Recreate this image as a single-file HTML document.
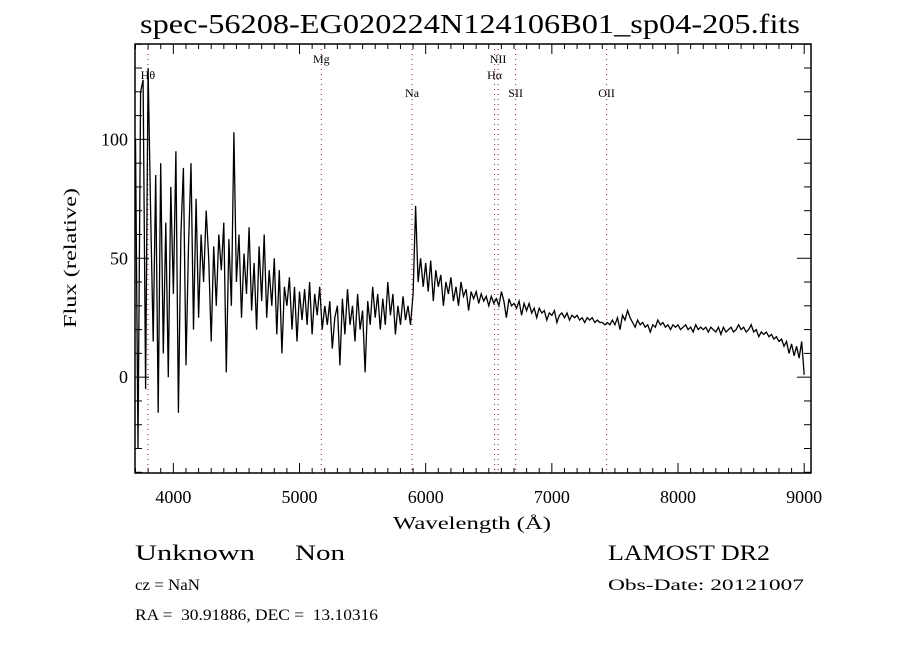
<!DOCTYPE html>
<html><head><meta charset="utf-8"><style>
body{margin:0;background:#fff}
svg{display:block}
text{font-family:"Liberation Serif",serif;fill:#000;white-space:pre}
</style></head><body>
<svg id="chart" width="900" height="650" viewBox="0 0 900 650" xmlns="http://www.w3.org/2000/svg" xml:space="preserve">
<rect width="900" height="650" fill="#fff"/>
<text x="470" y="33" font-size="27" text-anchor="middle" textLength="660" lengthAdjust="spacingAndGlyphs">spec-56208-EG020224N124106B01_sp04-205.fits</text>
<g id="ticks"></g>
<g id="lines"></g>
<defs><clipPath id="clip"><rect x="135" y="44" width="676" height="429"/></clipPath></defs>
<path id="spec" fill="none" stroke="#000" stroke-width="1.3" clip-path="url(#clip)"/>
<rect x="135" y="44" width="676" height="429" fill="none" stroke="#000" stroke-width="1.5"/>
<text x="472" y="529" font-size="18" text-anchor="middle" textLength="158" lengthAdjust="spacingAndGlyphs">Wavelength (Å)</text>
<text transform="translate(76,258) rotate(-90)" font-size="18" text-anchor="middle" textLength="140" lengthAdjust="spacingAndGlyphs">Flux (relative)</text>
<text x="135" y="560" font-size="22" textLength="120" lengthAdjust="spacingAndGlyphs">Unknown</text>
<text x="295" y="560" font-size="22" textLength="50" lengthAdjust="spacingAndGlyphs">Non</text>
<text x="608" y="560" font-size="22" textLength="162" lengthAdjust="spacingAndGlyphs">LAMOST DR2</text>
<text x="135" y="590" font-size="16" textLength="65" lengthAdjust="spacingAndGlyphs">cz = NaN</text>
<text x="608" y="590" font-size="16" textLength="196" lengthAdjust="spacingAndGlyphs">Obs-Date: 20121007</text>
<text x="135" y="620" font-size="16" textLength="243" lengthAdjust="spacingAndGlyphs">RA =  30.91886, DEC =  13.10316</text>
</svg>
<script>
const waveStart = 3700;
const waveStep = 20;
const flux = [
100,-30,120,125,-5,130,70,15,85,-15,90,10,65,0,80,35,
95,-15,60,88,5,55,90,20,75,25,60,40,70,50,15,55,30,60,45,65,2,58,30,103,40,
60,25,52,35,63,28,48,20,55,32,60,25,45,30,50,18,45,10,38,30,42,20,38,15,36,
24,37,22,40,18,35,26,38,20,30,22,32,12,25,30,5,33,18,37,22,30,15,35,20,28,2,32,22,38,25,35,20,33,22,40,26,35,18,30,22,34,24,30,22,35,
72,40,50,38,48,
36,49,32,45,38,43,30,40,35,42,32,38,30,40,34,37,28,36,33,36,31,35,32,34,30,34,31,33,30,36,
32,25,33,30,31,29,32,26,31,28,31,27,29,25,29,27,28,24,27,26,28,23,26,27,25,27,24,26,25,26,24,25,23,25,24,25,23,24,23,23,
22,23,22,24,22,25,20,26,24,28,25,23,21,24,22,23,21,22,19,22,21,24,22,23,21,22,20,22,21,22,20,21,22,20,21,19,22,20,21,20,21,19,21,20,19,21,18,21,19,20,21,19,20,22,20,21,19,20,22,19,20,17,19,18,19,17,18,16,17,15,16,13,15,10,14,9,13,8,15,1
];
const xTicks = [4000,5000,6000,7000,8000,9000];
const yTicks = [0,50,100];
const lineNames = ["Hθ","Mg","Na","NII","Hα","SII","OII"];
const lineWaves = [3798,5173,5892,6574,6546,6713,7434];
const lineLabelRow = [1,0,2,0,1,2,2];

const L=135,R=811,T=44,B=473;
const xMin=3696,xMax=9054,yMin=-40.3,yMax=140.1;
function xs(w){return L+(w-xMin)/(xMax-xMin)*(R-L);}
function ys(v){return B-(v-yMin)/(yMax-yMin)*(B-T);}
const NS="http://www.w3.org/2000/svg";
function mk(tag,attrs,parent){const e=document.createElementNS(NS,tag);for(const k in attrs)e.setAttribute(k,attrs[k]);parent.appendChild(e);return e;}

let d="";
flux.forEach((v,i)=>{const w=waveStart+i*waveStep;d+=(i?"L":"M")+xs(w).toFixed(1)+","+ys(v).toFixed(1);});
document.getElementById("spec").setAttribute("d",d);

const tg=document.getElementById("ticks");
for(let w=3700;w<=9000;w+=100){
  const major=w%1000===0;const x=xs(w);const len=major?10:5;
  const t1=mk("line",{x1:x,x2:x,y1:B,y2:B-len,stroke:"#000","stroke-width":1},tg);
  
  
  const t2=mk("line",{x1:x,x2:x,y1:T,y2:T+len,stroke:"#000","stroke-width":1},tg);
  
  
}
xTicks.forEach(w=>{
  const t=mk("text",{x:xs(w),y:503,"font-size":18,"text-anchor":"middle"},tg);
  t.textContent=w;
  
  
});
for(let v=-40;v<=140;v+=10){
  const major=v%50===0;const y=ys(v);const len=major?14:7;
  const t1=mk("line",{x1:L,x2:L+len,y1:y,y2:y,stroke:"#000","stroke-width":1},tg);
  
  
  const t2=mk("line",{x1:R,x2:R-len,y1:y,y2:y,stroke:"#000","stroke-width":1},tg);
  
  
}
yTicks.forEach(v=>{
  const t=mk("text",{x:128,y:ys(v)+6,"font-size":18,"text-anchor":"end"},tg);
  t.textContent=v;
  
  
});

const lg=document.getElementById("lines");
const rowY=[63,79,97];
lineWaves.forEach((w,i)=>{
  const x=xs(w);
  const ln=mk("line",{x1:x,x2:x,y1:T,y2:B,stroke:"#8b2020","stroke-width":1,"stroke-dasharray":"1,4"},lg);
  
  
  const t=mk("text",{x:x,y:rowY[lineLabelRow[i]],"font-size":12,"text-anchor":"middle"},lg);
  t.textContent=lineNames[i];
  
  
});
</script>
</body></html>
